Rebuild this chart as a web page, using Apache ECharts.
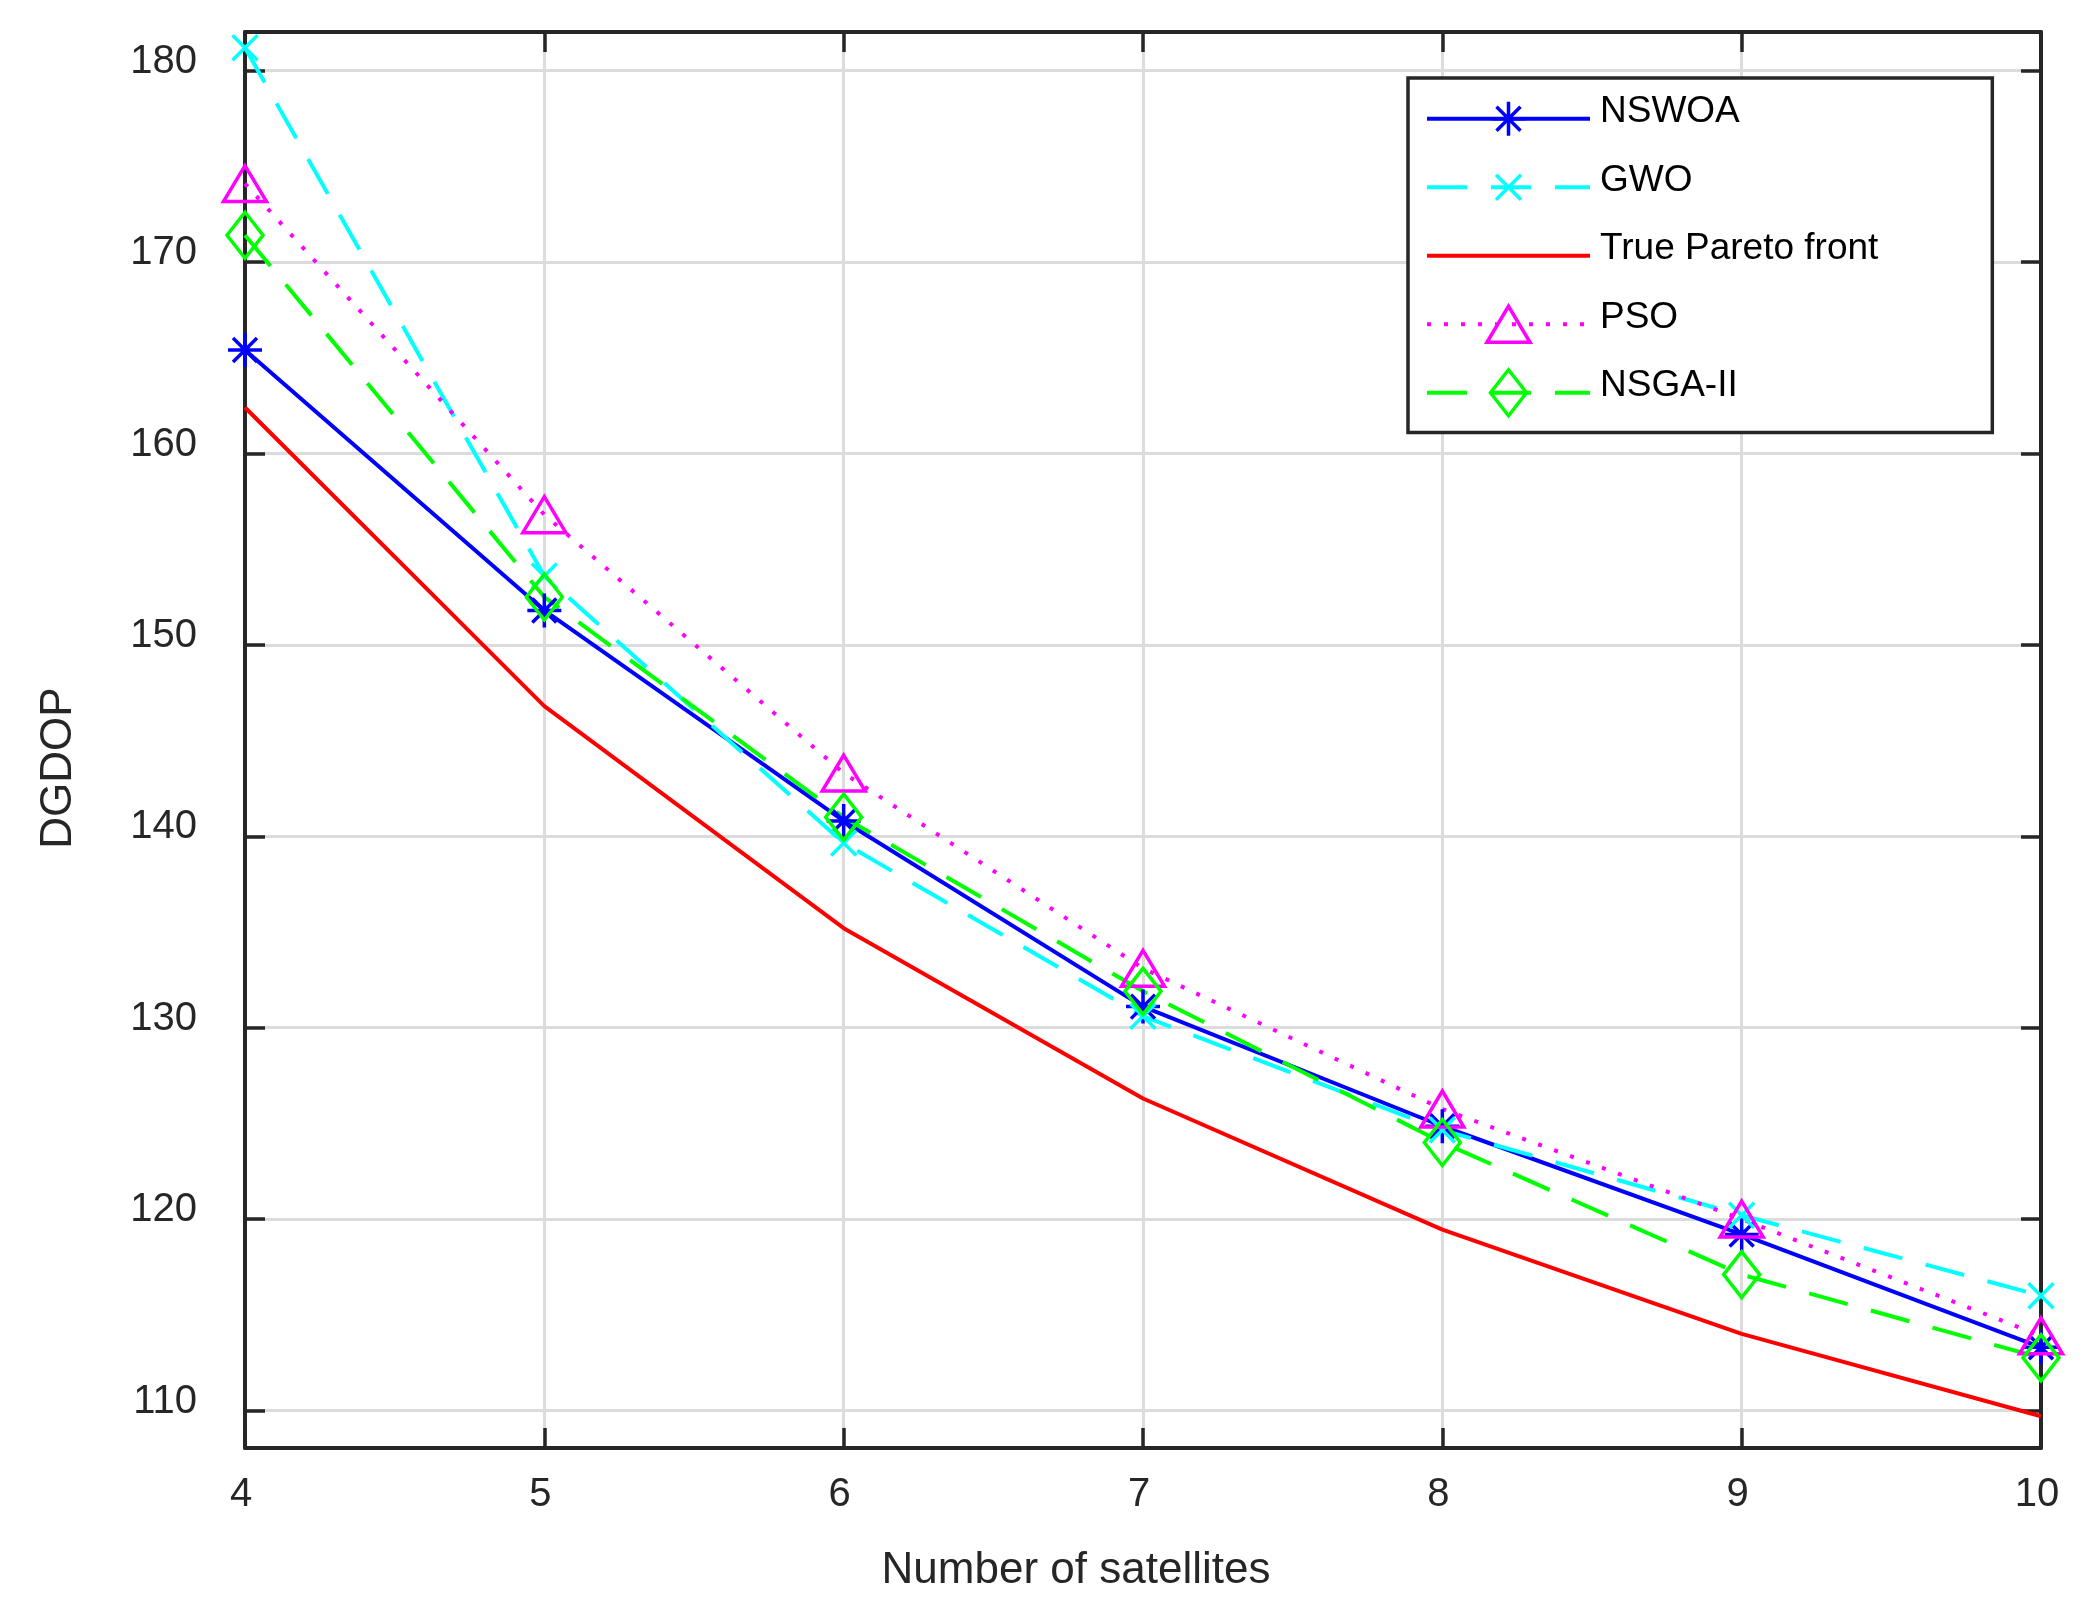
<!DOCTYPE html>
<html>
<head>
<meta charset="utf-8">
<title>DGDOP vs number of satellites</title>
<script src="https://cdn.jsdelivr.net/npm/echarts@6/dist/echarts.min.js"></script>
<style>
  html, body { margin: 0; padding: 0; background: #ffffff; }
  #chart { width: 2085px; height: 1612px; }
</style>
</head>
<body>
<div id="chart"></div>
<script>
(function () {
  'use strict';

  // ── Data ───────────────────────────────────────────────────────────────────

  var satellites = [4, 5, 6, 7, 8, 9, 10];
  var nswoa  = [165.4, 151.8, 140.8, 131.1, 124.85, 119.2, 113.3];
  var gwo    = [181.2, 153.6, 139.65, 130.6, 124.65, 120.2, 116.0];
  var pareto = [162.4, 146.8, 135.2, 126.3, 119.45, 114.0, 109.7];
  var pso    = [174.1, 156.8, 143.3, 133.1, 125.75, 120.0, 113.9];
  var nsga2  = [171.4, 152.5, 141.0, 131.9, 124.0, 117.1, 112.75];

  var yTicks = [110, 120, 130, 140, 150, 160, 170, 180];

  // ── Style ──────────────────────────────────────────────────────────────────

  var FONT = 'Liberation Sans, Arial, sans-serif';
  var AXIS = '#262626';
  var GRID = '#dcdcdc';
  var LINE_W = 4;

  // MATLAB-like markers, all drawn in a 48x48 frame so proportions survive
  var FRAME = 'M0,0 M48,48 ';
  var MARK = {
    asterisk: 'path://' + FRAME + 'M7,24 L41,24 M24,7 L24,41 M12,12 L36,36 M36,12 L12,36',
    xmark:    'path://' + FRAME + 'M11.5,11.5 L36.5,36.5 M36.5,11.5 L11.5,36.5',
    triangle: 'path://' + FRAME + 'M2.5,42 L45.5,42 L24,6 Z',
    diamond:  'path://' + FRAME + 'M24,1 L42,24 L24,47 L6,24 Z'
  };

  function pairs(ys) {
    return satellites.map(function (x, i) { return [x, ys[i]]; });
  }

  function lineSeries(name, ys, color, dash, symbol) {
    return {
      name: name,
      type: 'line',
      data: pairs(ys),
      symbol: symbol || 'none',
      symbolSize: 48,
      showSymbol: !!symbol,
      clip: false,
      smooth: false,
      lineStyle: { color: color, width: LINE_W, type: dash },
      itemStyle: {
        color: 'transparent',
        borderColor: symbol ? color : 'transparent',
        borderWidth: 3.5
      },
      emphasis: { disabled: true },
      legendHoverLink: false
    };
  }

  function axisLine() {
    return { show: true, onZero: false, lineStyle: { color: AXIS, width: 4 } };
  }

  function axisTick(custom) {
    var t = { show: true, inside: true, length: 20, lineStyle: { color: AXIS, width: 3.5 } };
    if (custom) t.customValues = custom;
    return t;
  }

  var option = {
    animation: false,
    backgroundColor: '#ffffff',
    textStyle: { fontFamily: FONT },
    grid: { left: 245, right: 44, top: 32, bottom: 164, containLabel: false, outerBoundsMode: 'none' },
    legend: {
      orient: 'vertical',
      left: 1408,
      top: 78,
      padding: [15, 114, 14, 17],
      itemWidth: 163,
      itemHeight: 60,
      itemGap: 17,
      selectedMode: false,
      backgroundColor: '#ffffff',
      borderColor: AXIS,
      borderWidth: 3.5,
      borderRadius: 0,
      lineStyle: { width: LINE_W },
      itemStyle: { borderWidth: 3.5 },
      formatter: '{t|{name}}',
      textStyle: {
        color: '#000000',
        fontFamily: FONT,
        rich: {
          t: { fontSize: 37, fontFamily: FONT, color: '#000000', lineHeight: 47, padding: [0, 0, 13, 5] }
        }
      },
      data: ['NSWOA', 'GWO', 'True Pareto front', 'PSO', 'NSGA-II']
    },
    xAxis: [{
      type: 'value', position: 'bottom', min: 4, max: 10, interval: 1,
      axisLine: axisLine(),
      axisTick: axisTick(),
      axisLabel: { color: AXIS, fontSize: 40, fontFamily: FONT, margin: 27, padding: [0, 8, 0, 0] },
      splitLine: { show: true, lineStyle: { color: GRID, width: 3 } },
      name: 'Number of satellites',
      nameLocation: 'middle',
      nameGap: 101,
      nameTextStyle: { color: AXIS, fontSize: 44, fontFamily: FONT, padding: [0, 134, 0, 0] }
    }, {
      type: 'value', position: 'top', min: 4, max: 10, interval: 1,
      axisLine: axisLine(),
      axisTick: axisTick(),
      axisLabel: { show: false },
      splitLine: { show: false }
    }],
    yAxis: [{
      type: 'value', position: 'left', min: 108.04, max: 182.02,
      axisLine: axisLine(),
      axisTick: axisTick(yTicks),
      axisLabel: {
        customValues: yTicks, color: AXIS, fontSize: 40, fontFamily: FONT, margin: 48,
        verticalAlign: 'bottom', lineHeight: 18
      },
      splitLine: { show: true, lineStyle: { color: GRID, width: 3 } },
      name: 'DGDOP',
      nameLocation: 'middle',
      nameRotate: 90,
      nameGap: 164,
      nameTextStyle: { color: AXIS, fontSize: 44, fontFamily: FONT, padding: [0, 56, 0, 0] }
    }, {
      type: 'value', position: 'right', min: 108.04, max: 182.02,
      axisLine: axisLine(),
      axisTick: axisTick(yTicks),
      axisLabel: { show: false },
      splitLine: { show: false }
    }],
    series: [
      lineSeries('NSWOA', nswoa, '#0000ff', 'solid', MARK.asterisk),
      lineSeries('GWO', gwo, '#00ffff', [40, 24], MARK.xmark),
      lineSeries('True Pareto front', pareto, '#ff0000', 'solid', null),
      lineSeries('PSO', pso, '#ff00ff', [4, 13], MARK.triangle),
      lineSeries('NSGA-II', nsga2, '#00ff00', [40, 24], MARK.diamond)
    ]
  };

  var chart = echarts.init(document.getElementById('chart'), null, { renderer: 'canvas' });
  chart.setOption(option);
})();
</script>
</body>
</html>
